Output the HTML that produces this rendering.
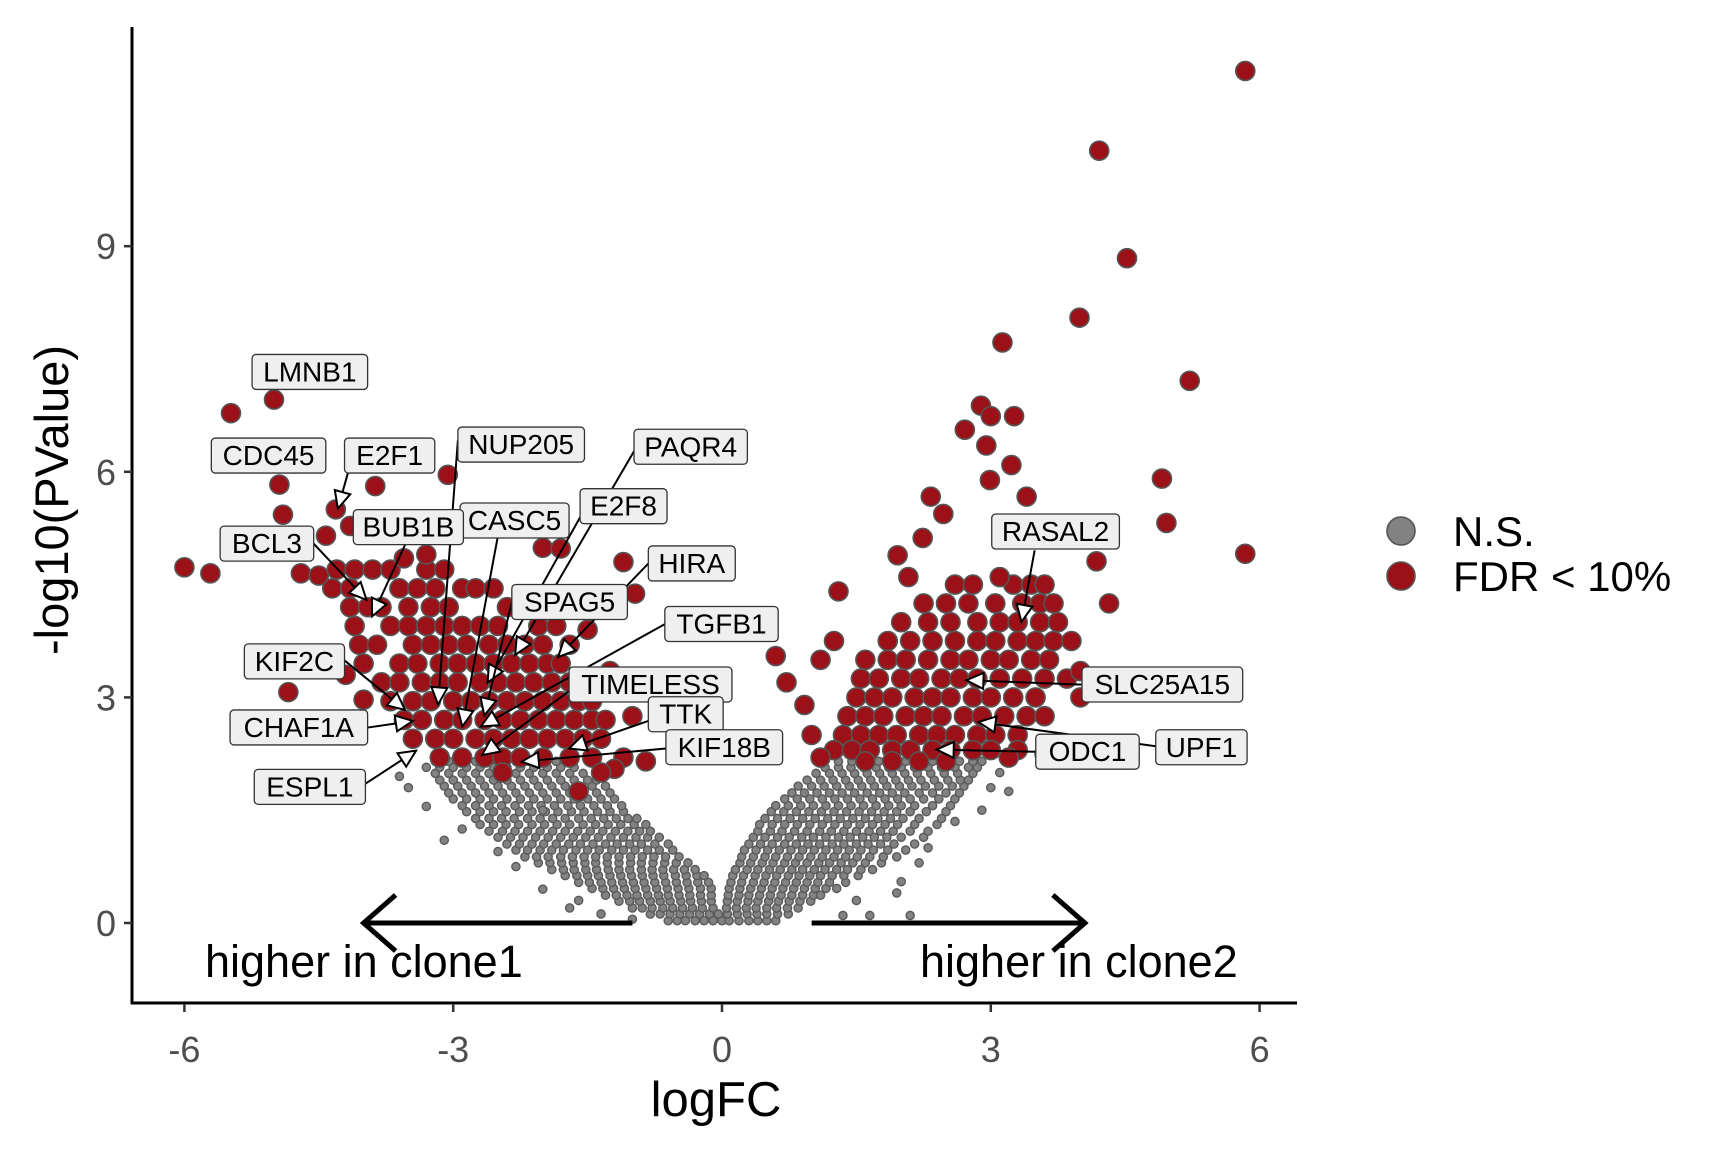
<!DOCTYPE html>
<html><head><meta charset="utf-8">
<style>
html,body{margin:0;padding:0;background:#fff;}
svg{display:block;font-family:"Liberation Sans",Arial,sans-serif;}
</style></head>
<body>
<svg id="chart" width="1728" height="1152" viewBox="0 0 1728 1152" xmlns="http://www.w3.org/2000/svg">
  <g id="grey"></g>
  <g id="red"></g>
  <g id="annot"></g>
  <g id="labels"></g>
  <g id="axes"></g>
  <g id="legend"></g>
</svg>
<script>
// ---- data ----
const xTicks = [-6, -3, 0, 3, 6];
const yTicks = [0, 3, 6, 9];
const nsRowY = [0.03,0.12,0.2,0.29,0.37,0.46,0.54,0.63,0.71,0.8,0.88,0.97,1.05,1.14,1.22,1.31,1.39,1.48,1.56,1.65,1.73,1.82,1.9,1.99,2.07,2.15];
const nsRowX = [
 [-.6,-.5,-.41,-.3,-.2,-.1,0,.08,.19,.3,.4,.5,.6],
 [-.8,-.69,-.58,-.47,-.36,-.25,-.14,-.04,.06,.17,.28,.39,.5,.62,.74],
 [-1,-.89,-.78,-.66,-.55,-.44,-.33,-.22,-.1,.05,.16,.27,.38,.5,.61,.73,.85],
 [-1.15,-1.03,-.92,-.8,-.69,-.58,-.46,-.35,-.23,-.12,.06,.17,.29,.4,.52,.63,.75,.87,.99],
 [-1.3,-1.18,-1.06,-.95,-.83,-.71,-.6,-.48,-.36,-.24,-.12,.07,.19,.3,.42,.54,.66,.78,.9,1.02,1.1],
 [-1.45,-1.33,-1.21,-1.09,-.97,-.85,-.73,-.61,-.49,-.37,-.24,-.12,.08,.2,.32,.44,.56,.68,.8,.92,1.04,1.16,1.28],
 [-1.6,-1.48,-1.35,-1.23,-1.11,-.99,-.87,-.75,-.63,-.51,-.39,-.27,-.15,.1,.22,.35,.47,.59,.71,.83,.95,1.07,1.2,1.38],
 [-1.75,-1.62,-1.5,-1.38,-1.25,-1.13,-1.01,-.89,-.77,-.65,-.52,-.4,-.28,-.2,.12,.24,.37,.49,.61,.74,.86,.98,1.1,1.23,1.36,1.52],
 [-1.9,-1.77,-1.65,-1.52,-1.4,-1.27,-1.15,-1.03,-.9,-.78,-.66,-.54,-.42,-.3,.15,.28,.4,.53,.65,.78,.9,1.03,1.15,1.28,1.4,1.55,1.68],
 [-2.05,-1.92,-1.79,-1.66,-1.53,-1.41,-1.28,-1.15,-1.02,-.9,-.77,-.64,-.51,-.38,.2,.32,.45,.57,.7,.82,.95,1.08,1.2,1.33,1.46,1.6,1.78],
 [-2.2,-2.07,-1.94,-1.8,-1.67,-1.54,-1.41,-1.28,-1.15,-1.02,-.89,-.76,-.63,-.48,.22,.35,.48,.6,.73,.86,.99,1.12,1.25,1.38,1.51,1.65,1.8,1.95],
 [-2.3,-2.17,-2.03,-1.9,-1.77,-1.63,-1.5,-1.37,-1.23,-1.1,-.97,-.83,-.7,-.55,.25,.38,.51,.64,.77,.9,1.03,1.16,1.29,1.42,1.55,1.69,1.85,2.05],
 [-2.4,-2.26,-2.12,-1.99,-1.85,-1.71,-1.58,-1.44,-1.3,-1.17,-1.03,-.9,-.75,-.6,.3,.43,.56,.7,.83,.96,1.09,1.23,1.36,1.5,1.63,1.77,1.92,2.15],
 [-2.5,-2.36,-2.22,-2.08,-1.94,-1.8,-1.66,-1.52,-1.38,-1.24,-1.1,-.96,-.83,-.7,.35,.48,.62,.75,.89,1.02,1.16,1.3,1.43,1.57,1.7,1.84,2.0,2.25],
 [-2.6,-2.45,-2.31,-2.17,-2.03,-1.89,-1.75,-1.61,-1.47,-1.33,-1.19,-1.05,-.92,-.8,.4,.54,.67,.81,.95,1.09,1.22,1.36,1.5,1.64,1.77,1.91,2.1,2.3],
 [-2.7,-2.55,-2.41,-2.27,-2.12,-1.98,-1.84,-1.7,-1.55,-1.41,-1.27,-1.13,-.98,-.85,.42,.56,.7,.84,.98,1.12,1.26,1.4,1.54,1.68,1.82,1.96,2.15,2.4],
 [-2.75,-2.6,-2.46,-2.32,-2.17,-2.03,-1.89,-1.75,-1.6,-1.46,-1.32,-1.18,-1.05,-.95,.48,.62,.76,.9,1.04,1.18,1.32,1.46,1.6,1.74,1.88,2.02,2.2,2.45],
 [-2.85,-2.7,-2.55,-2.41,-2.26,-2.12,-1.97,-1.83,-1.68,-1.54,-1.39,-1.25,-1.1,.55,.69,.83,.97,1.11,1.25,1.39,1.53,1.67,1.81,1.95,2.1,2.28,2.5],
 [-2.9,-2.75,-2.6,-2.46,-2.31,-2.16,-2.02,-1.87,-1.72,-1.58,-1.43,-1.28,-1.12,.6,.74,.88,1.02,1.16,1.3,1.44,1.58,1.72,1.86,2.0,2.15,2.35,2.55],
 [-3,-2.85,-2.7,-2.55,-2.4,-2.25,-2.1,-1.95,-1.8,-1.65,-1.5,-1.35,-1.2,.7,.84,.98,1.12,1.26,1.4,1.54,1.68,1.82,1.96,2.1,2.25,2.42,2.6],
 [-3.05,-2.9,-2.75,-2.6,-2.45,-2.3,-2.15,-2,-1.85,-1.7,-1.55,-1.4,-1.25,.78,.92,1.06,1.2,1.34,1.48,1.62,1.76,1.9,2.04,2.2,2.35,2.5,2.65],
 [-3.1,-2.95,-2.8,-2.65,-2.5,-2.35,-2.2,-2.05,-1.9,-1.75,-1.6,-1.45,-1.3,.85,1.0,1.14,1.28,1.42,1.56,1.7,1.84,1.98,2.12,2.27,2.42,2.57,2.7],
 [-3.15,-3,-2.85,-2.7,-2.55,-2.4,-2.25,-2.1,-1.95,-1.8,-1.65,-1.5,-1.4,.95,1.1,1.24,1.38,1.52,1.66,1.8,1.94,2.08,2.22,2.37,2.52,2.66,2.75],
 [-3.2,-3.05,-2.9,-2.75,-2.6,-2.45,-2.3,-2.15,-2,-1.85,-1.7,-1.55,1.05,1.2,1.34,1.48,1.62,1.76,1.9,2.04,2.18,2.33,2.48,2.63,2.8],
 [-3.3,-3.15,-3,-2.85,-2.7,-2.55,-2.4,-2.25,-2.1,-1.95,-1.8,-1.65,1.15,1.3,1.44,1.58,1.72,1.86,2,2.15,2.3,2.45,2.6,2.75,2.85],
 [-3.2,-3.05,-2.9,-2.75,-2.6,-2.45,-2.3,-2.15,-2,-1.85,1.3,1.45,1.6,1.75,1.9,2.05,2.2,2.35,2.5,2.65,2.8,2.9]
];
const nsExtra = [[-2.0,0.45],[-1.6,0.3],[-1.35,0.12],[-2.3,0.75],[-2.5,0.95],[-2.9,1.25],[-3.3,1.55],[-3.5,1.8],[-3.6,1.95],[-1.7,0.2],[1.5,0.3],[1.65,0.1],[2.1,0.1],[1.95,0.4],[2.0,0.55],[2.3,1.0],[2.6,1.35],[2.9,1.5],[3.0,1.8],[3.2,1.75],[1.35,0.1],[-1.0,0.05],[-2.0,1.5],[-3.1,1.1],[3.1,2.0],[2.2,0.8]];
const sigRowY = [4.7,4.45,4.2,3.95,3.7,3.45,3.2,2.95,2.7,2.45,2.2, 4.5,4.25,4.0,3.75,3.5,3.25,3.0,2.75,2.5,2.3,2.15];
const sigRowX = [
 [-4.3,-4.1,-3.9,-3.7,-3.3,-3.1],
 [-4.35,-4.15,-3.6,-3.4,-3.2,-2.9,-2.75,-2.55],
 [-4.15,-3.95,-3.8,-3.5,-3.25,-3.05,-2.4,-2.2],
 [-4.1,-3.7,-3.5,-3.3,-3.1,-2.9,-2.7,-2.5,-2.05,-1.85],
 [-4.05,-3.85,-3.45,-3.25,-3.05,-2.85,-2.6,-2.4,-2.2,-2.0,-1.7],
 [-4.0,-3.6,-3.4,-3.15,-2.95,-2.75,-2.55,-2.35,-2.15,-1.95,-1.8],
 [-3.8,-3.6,-3.35,-3.15,-2.95,-2.7,-2.5,-2.3,-2.1,-1.9,-1.7,-1.55],
 [-3.7,-3.45,-3.25,-3.0,-2.8,-2.6,-2.4,-2.2,-2.0,-1.8,-1.6,-1.45],
 [-3.55,-3.35,-3.1,-2.9,-2.65,-2.45,-2.25,-2.05,-1.85,-1.65,-1.45,-1.3],
 [-3.45,-3.2,-3.0,-2.75,-2.55,-2.35,-2.15,-1.95,-1.75,-1.55,-1.35],
 [-3.15,-2.9,-2.65,-2.45,-2.25,-2.0,-1.7,-1.45],
 [2.6,2.8,3.25,3.45,3.6],
 [2.25,2.5,2.75,3.05,3.35,3.55,3.7],
 [2.0,2.3,2.55,2.85,3.1,3.3,3.55,3.75],
 [1.85,2.1,2.35,2.6,2.85,3.05,3.3,3.5,3.7,3.9],
 [1.6,1.85,2.05,2.3,2.55,2.75,3.0,3.2,3.45,3.65],
 [1.55,1.75,2.0,2.2,2.45,2.65,2.85,3.1,3.35,3.6,3.85],
 [1.5,1.7,1.9,2.15,2.35,2.55,2.8,3.0,3.25,3.5],
 [1.4,1.6,1.8,2.05,2.25,2.45,2.7,2.9,3.15,3.4,3.6],
 [1.35,1.55,1.75,1.95,2.2,2.4,2.6,2.85,3.05,3.3],
 [1.25,1.45,1.65,1.9,2.1,2.35,2.55,2.8,3.0,3.3],
 [1.6,1.9,2.2,2.5]
];
const sigExtra = [[-5.0,6.96],[-5.48,6.78],[-3.06,5.96],[-4.94,5.83],[-3.87,5.81],[-4.9,5.43],[-4.31,5.5],[-4.15,5.28],[-4.42,5.15],[-6.0,4.73],[-5.71,4.65],[-4.7,4.65],[-4.5,4.62],[-4.84,3.07],[-4.2,3.3],[-4.0,2.97],[-2.0,4.99],[-1.8,4.98],[-1.1,4.8],[-0.97,4.38],[-1.5,3.9],[-1.25,3.35],[-1.0,2.75],[-1.1,2.2],[-1.2,2.05],[-1.35,2.0],[-0.85,2.15],[-2.45,2.0],[-1.6,1.75],[-3.3,4.9],[-3.55,4.85],
 [5.84,11.33],[4.21,10.27],[4.52,8.84],[3.99,8.05],[3.13,7.72],[5.22,7.21],[4.91,5.91],[4.96,5.32],[5.84,4.91],[4.18,4.81],[4.32,4.25],[2.89,6.88],[3.0,6.74],[3.26,6.74],[2.71,6.56],[2.95,6.35],[3.23,6.09],[2.99,5.89],[3.4,5.67],[2.33,5.67],[2.47,5.44],[2.24,5.12],[3.3,5.2],[1.96,4.89],[2.08,4.6],[1.30,4.41],[3.1,4.6],[1.25,3.75],[1.1,3.5],[0.72,3.2],[0.92,2.9],[1.0,2.5],[0.6,3.55],[1.1,2.2],[4.0,3.35],[4.0,3.0],[3.6,2.25],[3.2,2.2]];
// gene labels: [text, boxLeft, boxTop, boxRight, lineStartX, lineStartY, tipX, tipY] (layout, display units)
const geneLabels = [
 ["LMNB1",229,322,334,null,null,null,null],
 ["CDC45",192,398,296,null,null,null,null],
 ["E2F1",313,398,395,316,430,307,462],
 ["NUP205",416,388,531,416,400,398,640],
 ["PAQR4",576,390,679,576,410,468,595],
 ["E2F8",527,444,606,527,470,443,620],
 ["CASC5",418,457,517,452,489,420,660],
 ["BUB1B",321,463,421,368,495,338,560],
 ["BCL3",200,478,285,285,494,333,545],
 ["HIRA",589,496,668,589,512,507,597],
 ["RASAL2",901,467,1017,940,500,928,565],
 ["SPAG5",465,531,570,465,547,440,650],
 ["TGFB1",604,551,707,604,567,437,660],
 ["KIF2C",222,585,313,313,600,368,645],
 ["TIMELESS",517,606,665,517,628,438,686],
 ["SLC25A15",983,606,1129,983,622,878,618],
 ["TTK",589,633,657,589,655,517,680],
 ["CHAF1A",209,645,334,334,661,375,655],
 ["KIF18B",605,663,711,605,680,474,692],
 ["UPF1",1050,663,1133,1050,678,889,656],
 ["ODC1",941,667,1035,941,683,851,681],
 ["ESPL1",231,699,332,332,712,378,682]
];
// ---- scales ----
const X0=722, XU=89.6, Y0=923, YU=75.2, K=1.1007;
const sx=v=>X0+v*XU, sy=v=>Y0-v*YU;
const NS="http://www.w3.org/2000/svg";
function mk(tag,attrs,parent){const e=document.createElementNS(NS,tag);for(const k in attrs)e.setAttribute(k,attrs[k]);parent.appendChild(e);return e;}
const gG=document.getElementById('grey'), gR=document.getElementById('red');
function greyPt(x,y){const c=mk('circle',{cx:sx(x),cy:sy(y),r:4.1,fill:'#828282',stroke:'#5a5a5a','stroke-width':1.4},gG);

}
nsRowY.forEach((y,i)=>nsRowX[i].forEach(x=>greyPt(x,y)));
nsExtra.forEach(p=>greyPt(p[0],p[1]));
function redPt(x,y){const c=mk('circle',{cx:sx(x),cy:sy(y),r:9.5,fill:'#9c1118',stroke:'#555','stroke-width':1.6},gR);

}
sigRowY.forEach((y,i)=>sigRowX[i].forEach(x=>redPt(x,y)));
sigExtra.forEach(p=>redPt(p[0],p[1]));
// direction arrows
const gA=document.getElementById('annot');
mk('line',{x1:sx(-1.0),y1:Y0,x2:sx(-4.0),y2:Y0,stroke:'#000','stroke-width':5},gA);
mk('polyline',{points:`${sx(-4.0)+32},${Y0-28} ${sx(-4.0)},${Y0} ${sx(-4.0)+32},${Y0+28}`,fill:'none',stroke:'#000','stroke-width':5},gA);
mk('line',{x1:sx(1.0),y1:Y0,x2:sx(4.05),y2:Y0,stroke:'#000','stroke-width':5},gA);
mk('polyline',{points:`${sx(4.05)-32},${Y0-28} ${sx(4.05)},${Y0} ${sx(4.05)-32},${Y0+28}`,fill:'none',stroke:'#000','stroke-width':5},gA);
let t=mk('text',{x:205,y:977,'font-size':45,fill:'#000'},gA);t.textContent='higher in clone1';


t=mk('text',{x:920,y:977,'font-size':45,fill:'#000'},gA);t.textContent='higher in clone2';


// gene labels
const gL=document.getElementById('labels');
geneLabels.forEach(l=>{
  const g=mk('g',{},gL);
  
  
  if(l[4]!==null){
    const x1=l[4]*K,y1=l[5]*K,x2=l[6]*K,y2=l[7]*K;
    mk('line',{x1,y1,x2,y2,stroke:'#000','stroke-width':2},g);
    const a=Math.atan2(y2-y1,x2-x1),L=17,w=8;
    const bx=x2-L*Math.cos(a),by=y2-L*Math.sin(a);
    const px=-Math.sin(a)*w,py=Math.cos(a)*w;
    mk('polygon',{points:`${x2},${y2} ${bx+px},${by+py} ${bx-px},${by-py}`,fill:'#fff',stroke:'#000','stroke-width':2},g);
  }
  const bx=l[1]*K,by=l[2]*K,bw=(l[3]-l[1])*K,bh=35;
  mk('rect',{x:bx,y:by,width:bw,height:bh,rx:4,fill:'#efefef',stroke:'#333','stroke-width':1.3},g);
  const tx=mk('text',{x:bx+bw/2,y:by+27,'font-size':28,'text-anchor':'middle',fill:'#000'},g);tx.textContent=l[0];
});
// axes
const gX=document.getElementById('axes');
mk('line',{x1:132,y1:27,x2:132,y2:1004,stroke:'#000','stroke-width':3},gX);
mk('line',{x1:131,y1:1003,x2:1297,y2:1003,stroke:'#000','stroke-width':3},gX);
xTicks.forEach(v=>{
  mk('line',{x1:sx(v),y1:1004,x2:sx(v),y2:1012,stroke:'#333','stroke-width':2.5},gX);
  const e=mk('text',{x:sx(v),y:1062,'font-size':36,'text-anchor':'middle',fill:'#4d4d4d'},gX);e.textContent=String(v);
  
  
});
yTicks.forEach(v=>{
  mk('line',{x1:124,y1:sy(v),x2:132,y2:sy(v),stroke:'#333','stroke-width':2.5},gX);
  const e=mk('text',{x:116,y:sy(v)+13,'font-size':36,'text-anchor':'end',fill:'#4d4d4d'},gX);e.textContent=String(v);
  
  
});
let xt=mk('text',{x:716,y:1116,'font-size':49,'text-anchor':'middle',fill:'#000'},gX);xt.textContent='logFC';


let yt=mk('text',{x:0,y:0,'font-size':47,'text-anchor':'middle',fill:'#000',transform:'translate(68,500) rotate(-90)'},gX);yt.textContent='-log10(PValue)';


// legend
const gLg=document.getElementById('legend');
[['N.S.','#828282',531],['FDR < 10%','#9c1118',576]].forEach(e=>{
  const g=mk('g',{},gLg);
  
  
  mk('circle',{cx:1401,cy:e[2],r:14,fill:e[1],stroke:'#555','stroke-width':1.6},g);
  const tx=mk('text',{x:1453,y:e[2]+15,'font-size':42,fill:'#000'},g);tx.textContent=e[0];
});
</script>
</body></html>
